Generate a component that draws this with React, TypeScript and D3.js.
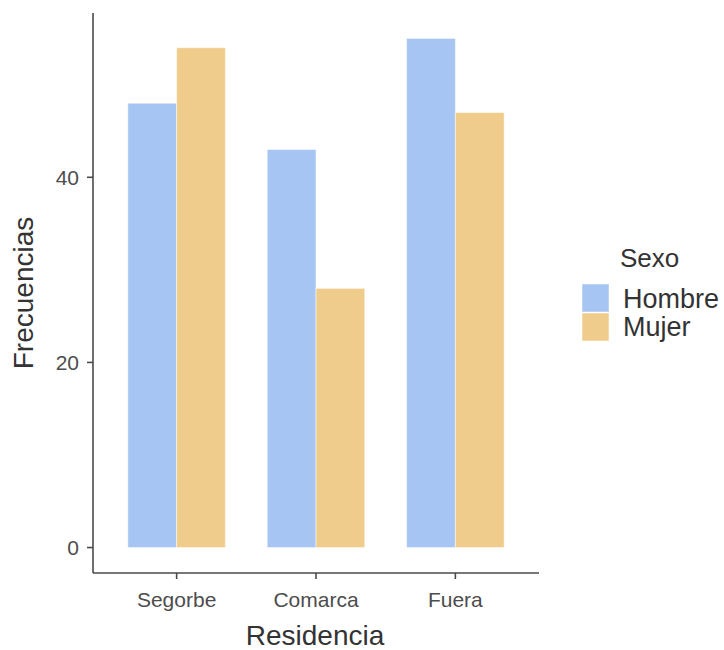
import React from "react";
import * as d3 from "d3";

const categories = ["Segorbe", "Comarca", "Fuera"];
const groups = ["Hombre", "Mujer"];
const hombre = [48, 43, 55];
const mujer = [54, 28, 47];
const yTicks = [0, 20, 40];
const colors = ["#a6c5f2", "#f0cc8c"];

export default function App() {
  const W = 724, H = 650;
  const left = 93, right = 539, top = 13, bottom = 573;
  const series = [hombre, mujer];
  const maxV = d3.max([...hombre, ...mujer]) as number;
  const y = d3.scaleLinear().domain([-maxV * 0.05, maxV * 1.05]).range([bottom, top]);
  const xc = d3.scaleLinear().domain([0.4, categories.length + 0.6]).range([left, right]);
  const bw = (xc(1.7) - xc(1)) / 2;
  const font = "Liberation Sans, Arial, sans-serif";
  const axisCol = "#4a4a4a";
  return (
    <svg width={W} height={H} style={{ position: "absolute", left: 0, top: 0, fontFamily: font }}>
      <rect width={W} height={H} fill="#fff" />
      {categories.map((c, i) =>
        series.map((s, g) => {
          const x0 = xc(i + 1) - bw + g * bw;
          return (
            <rect key={c + g} x={x0} y={y(s[i])} width={bw} height={y(0) - y(s[i])}
              fill={colors[g]} stroke="#fff" strokeOpacity={0.5} strokeWidth={1} />
          );
        })
      )}
      <line x1={left} x2={left} y1={top} y2={bottom} stroke={axisCol} strokeWidth={1.6} />
      <line x1={left} x2={right} y1={bottom} y2={bottom} stroke={axisCol} strokeWidth={1.6} />
      {yTicks.map((t) => (
        <g key={t}>
          <line x1={left - 6} x2={left} y1={y(t)} y2={y(t)} stroke={axisCol} strokeWidth={1.6} />
          <text x={left - 14} y={y(t)} dy="0.36em" textAnchor="end" fontSize={21} fill="#4d4d4d">{t}</text>
        </g>
      ))}
      {categories.map((c, i) => (
        <g key={c}>
          <line x1={xc(i + 1)} x2={xc(i + 1)} y1={bottom} y2={bottom + 6} stroke={axisCol} strokeWidth={1.6} />
          <text x={xc(i + 1)} y={607} textAnchor="middle" fontSize={21} fill="#4d4d4d">{c}</text>
        </g>
      ))}
      <text x={(left + right) / 2 - 1} y={645} textAnchor="middle" fontSize={28} fill="#333">Residencia</text>
      <text transform={`translate(33,${(top + bottom) / 2}) rotate(-90)`} textAnchor="middle" fontSize={28} fill="#333">Frecuencias</text>
      <text x={620} y={267} fontSize={26} fill="#333">Sexo</text>
      {groups.map((g, i) => (
        <g key={g}>
          <rect x={582} y={284 + i * 29} width={27} height={28} fill={colors[i]} stroke="#fff" strokeOpacity={0.5} />
          <text x={623} y={308 + i * 28} fontSize={27} fill="#333">{g}</text>
        </g>
      ))}
    </svg>
  );
}
